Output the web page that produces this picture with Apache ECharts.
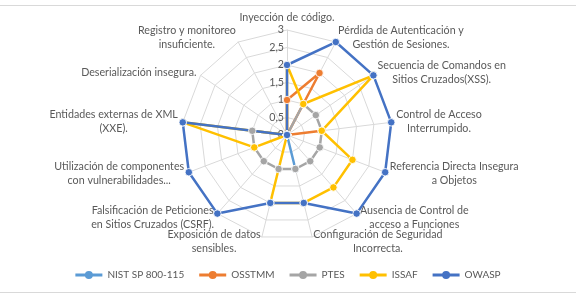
<!DOCTYPE html>
<html>
<head>
<meta charset="utf-8">
<script src="https://cdn.jsdelivr.net/npm/echarts@6/dist/echarts.min.js"></script>
<style>
    html, body { margin: 0; padding: 0; background: #fff; }
    .rule { position: absolute; left: 0; width: 576px; height: 1px; background: #d9d9d9; }
    #chart { position: absolute; left: 0; top: 0; width: 576px; height: 298px; }
</style>
</head>
<body>
<div class="rule" style="top:5px"></div>
<div class="rule" style="top:292px"></div>
<div id="chart"></div>
<script>
const indicators = [
    'Inyección de código.',
    'Pérdida de Autenticación y\nGestión de Sesiones.',
    'Secuencia de Comandos en\nSitios Cruzados(XSS).',
    'Control de Acceso\nInterrumpido.',
    'Referencia Directa Insegura\na Objetos',
    'Ausencia de Control de\nacceso a Funciones',
    'Configuración de Seguridad\nIncorrecta.',
    'Exposición de datos\nsensibles.',
    'Falsificación de Peticiones\nen Sitios Cruzados (CSRF).',
    'Utilización de componentes\ncon vulnerabilidades...',
    'Entidades externas de XML\n(XXE).',
    'Deserialización insegura.',
    'Registro y monitoreo\ninsuficiente.'
];

const nist   = [0, 0, 0, 0, 0, 0, 1, 0, 0, 0, 0, 0, 0];
const osstmm = [1, 2, 0, 1, 0, 0, 0, 0, 0, 0, 0, 0, 0];
const ptes   = [0, 1, 1, 1, 1, 1, 1, 1, 1, 1, 1, 0, 0];
const issaf  = [2, 1, 3, 1, 2, 2, 2, 2, 0, 1, 3, 0, 0];
const owasp  = [2, 3, 3, 3, 3, 3, 2, 2, 3, 3, 3, 0, 0];

const seriesNames = ['NIST SP 800-115', 'OSSTMM', 'PTES', 'ISSAF', 'OWASP'];
const seriesValues = [nist, osstmm, ptes, issaf, owasp];
const colors = ['#5B9BD5', '#ED7D31', '#A5A5A5', '#FFC000', '#4472C4'];
const tickLabels = ['0', '0,5', '1', '1,5', '2', '2,5', '3'];

const font = 'Lato, "Liberation Sans", sans-serif';
const textColor = '#595959';
const fs = 10.7;

// echarts puts radar axes counter-clockwise, the original goes clockwise
const order = indicators.map((_, i) => (indicators.length - i) % indicators.length);

const chart = echarts.init(document.getElementById('chart'));

chart.setOption({
    textStyle: { fontFamily: font },
    legend: {
        bottom: 13,
        left: 'center',
        itemWidth: 27,
        itemHeight: 8,
        itemGap: 15,
        icon: 'path://M0,4.5L27,4.5L27,7.5L0,7.5Z M9.5,6A4,4,0,1,1,17.5,6A4,4,0,1,1,9.5,6Z',
        itemStyle: { borderWidth: 0 },
        textStyle: { color: textColor, fontSize: 10, fontFamily: font },
        data: seriesNames
    },
    radar: {
        center: [287, 135],
        radius: 105,
        shape: 'polygon',
        splitNumber: 6,
        nameGap: 5,
        indicator: order.map((k, i) => {
            const ind = { name: indicators[k], min: 0, max: 3 };
            if (i === 0) ind.axisLabel = { show: true };
            return ind;
        }),
        axisName: {
            color: textColor,
            fontSize: fs,
            fontFamily: font,
            formatter: (name) => name.split('\n').map(l => '{c|' + l + '}').join('\n'),
            rich: {
                c: { align: 'center', color: textColor, fontSize: fs, fontFamily: font, lineHeight: 14 }
            }
        },
        axisLabel: {
            show: false,
            color: textColor,
            fontSize: fs,
            fontFamily: font,
            margin: 3,
            formatter: (value) => tickLabels[Math.round(value / 0.5)]
        },
        axisLine: { lineStyle: { color: '#D9D9D9', width: 1 } },
        splitLine: { lineStyle: { color: '#D9D9D9', width: 1 } },
        splitArea: { show: false }
    },
    series: [{
        type: 'radar',
        symbol: 'circle',
        symbolSize: 7.5,
        data: seriesValues.map((vals, s) => ({
            name: seriesNames[s],
            value: order.map(k => vals[k]),
            lineStyle: { color: colors[s], width: 2.5 },
            itemStyle: { color: colors[s], borderColor: 'rgba(255,255,255,0.85)', borderWidth: 1 }
        }))
    }]
});
</script>
</body>
</html>
